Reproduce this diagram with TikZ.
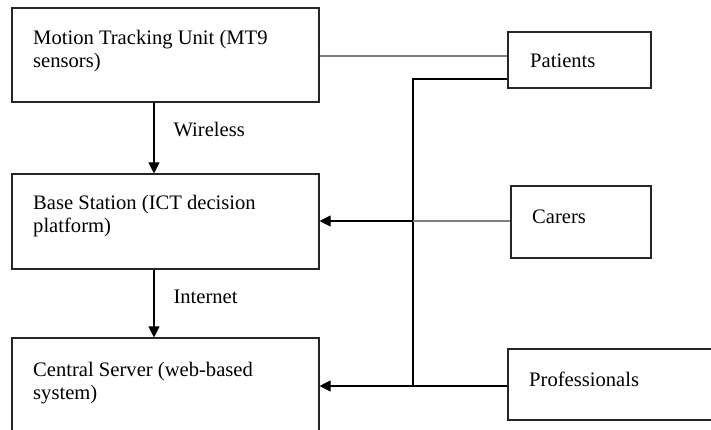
\documentclass[tikz,border=0pt]{standalone}
\usepackage{fontspec}
\setmainfont{Liberation Serif}
\usetikzlibrary{arrows.meta}
\begin{document}
\begin{tikzpicture}[x=1pt,y=-1pt,
  box/.style={draw=black!85,line width=1.1pt,inner sep=0pt,fill=white},
  txt/.style={inner sep=0pt,anchor=base west,align=left,font=\fontsize{20.6}{23}\selectfont},
  lbl/.style={inner sep=0pt,anchor=base west,font=\fontsize{20.6}{23}\selectfont},
  conn/.style={line width=1.1pt,black},
  grayconn/.style={line width=1.6pt,black!50},
  arr/.style={conn,-{Triangle[length=11pt,width=11pt]}}]
\useasboundingbox (0,0) rectangle (711,430);
\clip (0,0) rectangle (711,430);
\fill[white] (0,0) rectangle (711,430);
% boxes
\node[box,minimum width=307pt,minimum height=94pt] (mt) at (165.5,55) {};
\node[box,minimum width=307pt,minimum height=95pt] (bs) at (165.5,221.5) {};
\node[box,minimum width=307pt,minimum height=120pt] (cs) at (165.5,398) {};
\node[box,minimum width=143pt,minimum height=56pt] (pat) at (579.5,60) {};
\node[box,minimum width=140pt,minimum height=72pt] (car) at (581,222) {};
\node[box,minimum width=230pt,minimum height=71pt] (pro) at (623,384.5) {};
% texts (base anchor = last line)
\node[txt] (mtt) at (33,68) {Motion Tracking Unit (MT9\\sensors)};
\node[txt] (bst) at (33,233) {Base Station (ICT decision\\platform)};
\node[txt] (cst) at (33,399) {Central Server (web-based\\system)};
\node[txt] (patt) at (530,68) {Patients};
\node[txt] (cart) at (532,223) {Carers};
\node[txt] (prot) at (529,386) {Professionals};
% connectors
\coordinate (j1) at (413,79);
\coordinate (j2) at (413,221);
\coordinate (j3) at (413,386);
\draw[grayconn] (mt.east |- 0,56) -- (pat.west |- 0,56);
\draw[arr] (mt.south -| 154,0) -- node[lbl,pos=0.5,xshift=19pt,yshift=1pt] (wl) {Wireless} (bs.north -| 154,0);
\draw[arr] (bs.south -| 154,0) -- node[lbl,pos=0.5,xshift=19pt,yshift=0.5pt] (in) {Internet} (cs.north -| 154,0);
\draw[conn] (pat.west |- j1) -- (j1) -- (j3);
\draw[grayconn] (car.west |- j2) -- (j2);
\draw[arr] (j2) -- (bs.east |- j2);
\draw[conn] (pro.west |- j3) -- (j3);
\draw[arr] (j3) -- (cs.east |- j3);
\end{tikzpicture}
\end{document}
